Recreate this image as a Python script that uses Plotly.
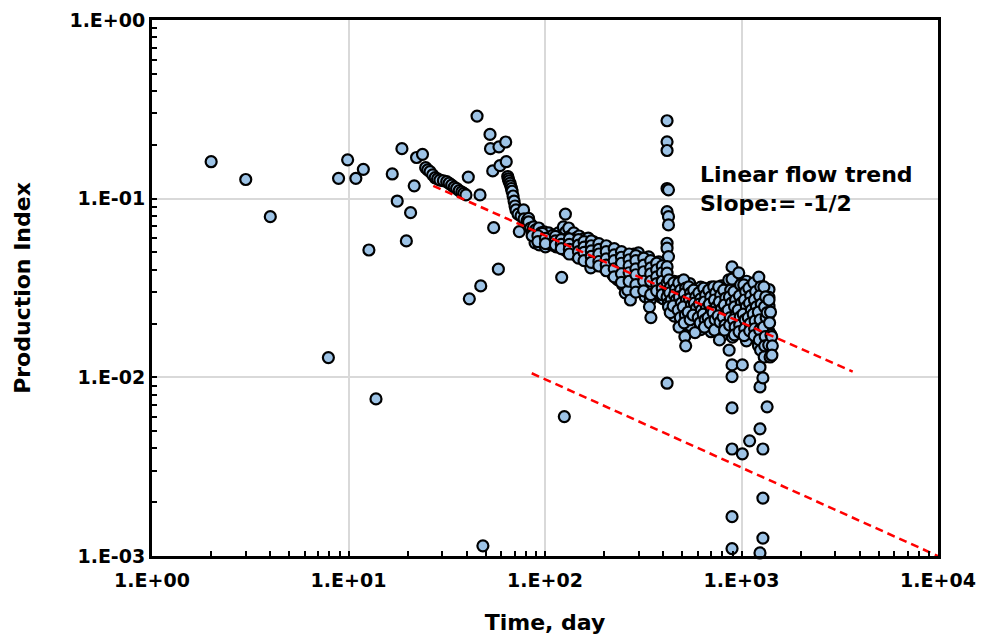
import plotly.graph_objects as go

# ---------------- data (Time in days, Production Index) ----------------
early_time = [2, 3, 4, 7.9, 8.9, 9.9, 10.9, 11.9, 12.7, 13.8, 16.7, 17.7, 18.7, 19.7, 20.7, 21.6, 22.2, 23.8]
early_pi = [0.161, 0.128, 0.0793, 0.0129, 0.130, 0.165, 0.130, 0.146, 0.0516, 0.00757, 0.1375, 0.097, 0.1905,
            0.058, 0.0835, 0.118, 0.170, 0.177]

arc_time = [24.7, 25.3, 26.0, 26.8, 27.6, 28.4, 29.2, 30.4, 31.6, 32.5, 33.5, 34.5, 35.5, 36.6, 37.7, 38.6, 39.6]
arc_pi = [0.149, 0.145, 0.1416, 0.136, 0.131, 0.129, 0.127, 0.126, 0.1245, 0.122, 0.119, 0.116, 0.114, 0.111,
          0.109, 0.107, 0.105]

mid_time = [40.7, 41.2, 45.1, 46.7, 47.1, 48.3, 52.5, 52.8, 54.2, 54.8, 57.9, 58.3, 59.0, 63.1, 63.5]
mid_pi = [0.132, 0.0275, 0.290, 0.105, 0.0325, 0.00114, 0.229, 0.1905, 0.143, 0.0688, 0.0403, 0.195, 0.153,
          0.2076, 0.161]

drop_time = [64.6, 65.1, 65.6, 66.3, 66.9, 67.5, 68.0, 68.8, 69.6, 70.4, 71.2, 72.9, 74.0, 75.5, 77.8, 78.2,
             81.0, 82.5, 83.9]
drop_pi = [0.133, 0.129, 0.1256, 0.122, 0.118, 0.114, 0.110, 0.1035, 0.097, 0.091, 0.0865, 0.082, 0.0654,
           0.080, 0.0865, 0.077, 0.075, 0.0775, 0.073]

band1_time = [82.5, 84.5, 86.0,
              87.5, 89.5, 88.0, 90.5, 89.0,
              91.5,
              93.0, 95.5, 94.0, 96.0, 93.5,
              97.0,
              99, 101, 102.5, 98.5, 100.5,
              104.5, 107, 105.5, 108,
              110.5, 113, 111.5, 114,
              117, 120, 118, 121.5,
              121.6, 125.4, 127,
              124, 127.5, 125, 129, 126.5,
              132, 135, 133.5, 136.5, 131,
              140, 143.5, 141, 145, 139,
              149, 152.5, 150, 154, 147.5,
              157, 161.5, 158.5, 163, 156]
band1_pi = [0.0741, 0.0685, 0.0651,
            0.0695, 0.0668, 0.0634, 0.0602, 0.0566,
            0.0595,
            0.0685, 0.0643, 0.0610, 0.0580, 0.0551,
            0.0573,
            0.0651, 0.0618, 0.0587, 0.0566, 0.0537,
            0.0643, 0.0610, 0.0580, 0.0551,
            0.0626, 0.0595, 0.0566, 0.0537,
            0.0643, 0.0602, 0.0573, 0.0537,
            0.0363, 0.00603, 0.082,
            0.0695, 0.0651, 0.0587, 0.0551, 0.0516,
            0.0685, 0.0618, 0.0573, 0.0537, 0.0503,
            0.0643, 0.0602, 0.0558, 0.0523, 0.0490,
            0.0618, 0.0573, 0.0537, 0.0503, 0.0472,
            0.0595, 0.0551, 0.0523, 0.0490, 0.0460]

band2_time = [166, 170, 168, 172, 165, 171,
              177, 181, 178.5, 183, 176,
              187, 191.5, 189, 194, 186,
              199, 204, 200.5, 206, 197,
              211, 216, 212.5, 218, 209,
              224, 229, 225.5, 231, 222,
              237, 243, 239, 246, 235,
              251, 257, 253, 260, 249, 256,
              266, 273, 268.5, 276, 264, 272,
              283, 289, 285, 292, 281,
              299, 307, 302, 310, 297, 305,
              318, 326, 320.5, 329, 315, 324,
              337, 345, 339.5, 348, 334, 343, 340, 346,
              357, 366, 360, 369, 354,
              379, 388, 382, 392, 376, 386]
band2_pi = [0.0602, 0.0566, 0.0530, 0.0497, 0.0466, 0.0410,
            0.0573, 0.0537, 0.0503, 0.0472, 0.0443,
            0.0544, 0.0510, 0.0484, 0.0454, 0.0432,
            0.0530, 0.0497, 0.0472, 0.0443, 0.0415,
            0.0516, 0.0484, 0.0454, 0.0432, 0.0399,
            0.0503, 0.0472, 0.0443, 0.0415, 0.0374,
            0.0490, 0.0454, 0.0426, 0.0399, 0.0351,
            0.0478, 0.0443, 0.0415, 0.0389, 0.0329, 0.0297,
            0.0466, 0.0432, 0.0405, 0.0374, 0.0308, 0.0271,
            0.0490, 0.0443, 0.0415, 0.0389, 0.0360,
            0.0497, 0.0466, 0.0426, 0.0399, 0.0369, 0.0338,
            0.0454, 0.0410, 0.0384, 0.0355, 0.0316, 0.0282,
            0.0472, 0.0426, 0.0399, 0.0369, 0.0338, 0.0271, 0.0248, 0.0216,
            0.0426, 0.0389, 0.0360, 0.0333, 0.0308,
            0.0443, 0.0399, 0.0364, 0.0338, 0.0308, 0.0282]

spike_time = [418, 418, 418, 418, 425, 418, 425, 425, 418, 418, 425, 418, 418, 418, 425, 418, 425, 418]
spike_pi = [0.273, 0.208, 0.186, 0.114, 0.112, 0.0846, 0.0793, 0.0713, 0.0563, 0.0528, 0.0474, 0.0416,
            0.0383, 0.0338, 0.0308, 0.0282, 0.0260, 0.00927]

band3_time = [428, 436, 431, 439, 425, 434,
              452, 462, 456, 466, 449,
              479, 490, 483, 494, 476, 488, 481,
              508, 520, 512, 525, 505, 518, 511, 515, 520,
              539, 551, 543, 556, 535, 548,
              571, 585, 576, 590, 567, 580,
              606, 620, 611, 625, 602, 616,
              642, 657, 647, 663, 638, 653, 648,
              681, 697, 686, 703, 676, 692,
              722, 739, 728, 745, 717, 734, 729,
              765, 783, 771, 790, 760, 778, 772,
              812, 831, 818, 838, 806, 825, 820,
              861, 881, 868, 889, 855, 876, 870, 865]
band3_pi = [0.0351, 0.0321, 0.0297, 0.0271, 0.0248, 0.0230,
            0.0338, 0.0312, 0.0289, 0.0271, 0.0251,
            0.0338, 0.0308, 0.0282, 0.0260, 0.0238, 0.0216, 0.0191,
            0.0351, 0.0316, 0.0293, 0.0271, 0.0248, 0.0223, 0.0202, 0.0169, 0.0150,
            0.0321, 0.0297, 0.0275, 0.0254, 0.0232, 0.0210,
            0.0308, 0.0282, 0.0260, 0.0244, 0.0223, 0.0178,
            0.0297, 0.0275, 0.0257, 0.0238, 0.0216, 0.0202,
            0.0316, 0.0289, 0.0264, 0.0244, 0.0226, 0.0210, 0.0191,
            0.0308, 0.0282, 0.0257, 0.0235, 0.0216, 0.0202,
            0.0321, 0.0297, 0.0271, 0.0248, 0.0230, 0.0210, 0.0184,
            0.0321, 0.0289, 0.0264, 0.0241, 0.0221, 0.0204, 0.0162,
            0.0308, 0.0278, 0.0254, 0.0232, 0.0218, 0.0196, 0.0184,
            0.0351, 0.0308, 0.0282, 0.0260, 0.0238, 0.0216, 0.0196, 0.0142]

band4_time = [895, 895, 895, 895, 895, 895, 895, 895,
              915, 933, 922, 940, 910, 928, 920,
              968, 990, 976, 998, 962, 985, 979, 972,
              1010, 1010,
              1027, 1050, 1036, 1058, 1020, 1044, 1038, 1032,
              1100,
              1089, 1113, 1098, 1122, 1082, 1106, 1100,
              1154, 1180, 1164, 1190, 1147, 1173, 1166, 1160,
              1225, 1252, 1236, 1260, 1218, 1244, 1238, 1232, 1250, 1242, 1242, 1242, 1242,
              1285, 1285, 1285, 1285,
              1300, 1327, 1310, 1335, 1295, 1320, 1312, 1305,
              1350, 1350,
              1380, 1405, 1390, 1412, 1375, 1398,
              1425, 1435, 1428]
band4_pi = [0.0415, 0.0355, 0.01173, 0.0101, 0.00674, 0.00397, 0.00166, 0.00110,
            0.0302, 0.0271, 0.0248, 0.0226, 0.0210, 0.0191, 0.0173,
            0.0384, 0.0329, 0.0286, 0.0260, 0.0238, 0.0218, 0.0196, 0.0180,
            0.01173, 0.00373,
            0.0329, 0.0302, 0.0271, 0.0248, 0.0226, 0.0210, 0.0187, 0.0171,
            0.00441,
            0.0316, 0.0286, 0.0260, 0.0238, 0.0216, 0.0200, 0.0182,
            0.0338, 0.0302, 0.0271, 0.0248, 0.0226, 0.0207, 0.0187, 0.0171,
            0.0364, 0.0321, 0.0286, 0.0257, 0.0232, 0.0210, 0.0184, 0.0162, 0.0142, 0.0114, 0.00884, 0.00515,
            0.00104,
            0.00993, 0.00397, 0.00211, 0.00126,
            0.0321, 0.0282, 0.0248, 0.0216, 0.0191, 0.0169, 0.0150, 0.0130,
            0.0230, 0.00684,
            0.0271, 0.0232, 0.0202, 0.0173, 0.0152, 0.0130,
            0.0169, 0.0150, 0.0133]

fill_time = [86] + [97] * 2 + [103] * 2 + [109] * 2 + [116] * 2 + [123] * 2 + [130] * 3 + [138] * 3 + \
            [146] * 3 + [155] * 3 + [164] * 3 + [175] * 4 + [185] * 3 + [196] * 4 + [208] * 3 + [220] * 4 + \
            [234] * 3 + [248] * 4 + [263] * 3 + [279] * 4 + [295] * 4 + [313] * 4 + [332] * 4 + [352] * 4 + \
            [374] * 5 + [400] * 5 + [446] * 5 + [472] * 5 + [500] * 6 + [531] * 6 + [563] * 5 + [597] * 6 + \
            [633] * 5 + [671] * 6 + [712] * 6 + [755] * 6 + [800] * 6 + [848] * 7 + [950] * 7 + [1012] * 6 + \
            [1075] * 7 + [1138] * 7 + [1205] * 8 + [1280] * 7 + [1357] * 7
fill_pi = [0.0620,
           0.0600, 0.0640,
           0.0560, 0.0600,
           0.0585, 0.0620,
           0.0555, 0.0610,
           0.0570, 0.0530,
           0.0600, 0.0545, 0.0520,
           0.0580, 0.0540, 0.0510,
           0.0555, 0.0515, 0.0480,
           0.0560, 0.0525, 0.0490,
           0.0540, 0.0500, 0.0470,
           0.0550, 0.0515, 0.0480, 0.0455,
           0.0525, 0.0490, 0.0460,
           0.0515, 0.0480, 0.0450, 0.0425,
           0.0505, 0.0470, 0.0440,
           0.0490, 0.0460, 0.0428, 0.0390,
           0.0470, 0.0440, 0.0410,
           0.0460, 0.0430, 0.0400, 0.0360,
           0.0450, 0.0420, 0.0390,
           0.0465, 0.0425, 0.0395, 0.0370,
           0.0470, 0.0420, 0.0385, 0.0350,
           0.0440, 0.0395, 0.0365, 0.0330,
           0.0430, 0.0385, 0.0350, 0.0300,
           0.0410, 0.0375, 0.0345, 0.0320,
           0.0420, 0.0380, 0.0350, 0.0320, 0.0295,
           0.0400, 0.0360, 0.0330, 0.0300, 0.0275,
           0.0330, 0.0305, 0.0280, 0.0258, 0.0240,
           0.0325, 0.0295, 0.0270, 0.0248, 0.0228,
           0.0330, 0.0300, 0.0275, 0.0250, 0.0228, 0.0205,
           0.0310, 0.0285, 0.0262, 0.0240, 0.0220, 0.0195,
           0.0300, 0.0275, 0.0252, 0.0232, 0.0212,
           0.0290, 0.0268, 0.0248, 0.0230, 0.0210, 0.0190,
           0.0295, 0.0270, 0.0250, 0.0230, 0.0208,
           0.0300, 0.0275, 0.0252, 0.0232, 0.0214, 0.0196,
           0.0295, 0.0268, 0.0245, 0.0225, 0.0207, 0.0192,
           0.0305, 0.0278, 0.0255, 0.0235, 0.0215, 0.0197,
           0.0295, 0.0270, 0.0248, 0.0228, 0.0208, 0.0190,
           0.0320, 0.0290, 0.0265, 0.0245, 0.0225, 0.0205, 0.0188,
           0.0315, 0.0285, 0.0260, 0.0238, 0.0218, 0.0200, 0.0182,
           0.0300, 0.0275, 0.0250, 0.0230, 0.0210, 0.0192,
           0.0310, 0.0282, 0.0256, 0.0234, 0.0214, 0.0195, 0.0178,
           0.0300, 0.0275, 0.0252, 0.0232, 0.0212, 0.0194, 0.0177,
           0.0330, 0.0295, 0.0268, 0.0244, 0.0222, 0.0200, 0.0180, 0.0160,
           0.0300, 0.0265, 0.0238, 0.0212, 0.0190, 0.0168, 0.0150,
           0.0290, 0.0255, 0.0222, 0.0195, 0.0172, 0.0155, 0.0140]

fill2_time = [92] * 2 + [100.5] * 2 + [113] * 3 + [121] * 3 + [133] * 4 + [148] * 4 + [158] * 4 + [172] * 5 + \
             [188] * 5 + [205] * 5 + [225] * 5 + [245] * 5 + [268] * 5 + [290] * 6 + [318] * 5 + [345] * 5 + \
             [370] * 5 + [395] * 5 + [455] * 6 + [490] * 7 + [545] * 7 + [620] * 7 + [700] * 7 + [790] * 8 + \
             [900] * 8 + [1060] * 9 + [1220] * 9 + [1380] * 8
fill2_pi = [0.0620, 0.0575,
            0.0600, 0.0560,
            0.0615, 0.0580, 0.0550,
            0.0590, 0.0555, 0.0525,
            0.0595, 0.0555, 0.0520, 0.0490,
            0.0590, 0.0550, 0.0505, 0.0465,
            0.0575, 0.0535, 0.0500, 0.0450,
            0.0580, 0.0545, 0.0510, 0.0475, 0.0440,
            0.0560, 0.0520, 0.0490, 0.0445, 0.0420,
            0.0545, 0.0505, 0.0460, 0.0425, 0.0395,
            0.0525, 0.0485, 0.0450, 0.0405, 0.0365,
            0.0505, 0.0470, 0.0435, 0.0380, 0.0340,
            0.0490, 0.0455, 0.0420, 0.0385, 0.0345,
            0.0480, 0.0450, 0.0405, 0.0375, 0.0330, 0.0300,
            0.0465, 0.0425, 0.0390, 0.0345, 0.0305,
            0.0450, 0.0410, 0.0380, 0.0345, 0.0290,
            0.0435, 0.0400, 0.0365, 0.0335, 0.0305,
            0.0420, 0.0385, 0.0345, 0.0315, 0.0290,
            0.0345, 0.0318, 0.0292, 0.0265, 0.0245, 0.0220,
            0.0345, 0.0315, 0.0290, 0.0265, 0.0242, 0.0220, 0.0200,
            0.0335, 0.0305, 0.0280, 0.0258, 0.0236, 0.0215, 0.0195,
            0.0320, 0.0290, 0.0265, 0.0242, 0.0222, 0.0205, 0.0185,
            0.0320, 0.0290, 0.0262, 0.0240, 0.0220, 0.0200, 0.0180,
            0.0325, 0.0295, 0.0268, 0.0244, 0.0224, 0.0205, 0.0185, 0.0170,
            0.0325, 0.0298, 0.0270, 0.0248, 0.0226, 0.0205, 0.0186, 0.0168,
            0.0345, 0.0310, 0.0280, 0.0255, 0.0232, 0.0212, 0.0192, 0.0175, 0.0160,
            0.0345, 0.0310, 0.0278, 0.0250, 0.0225, 0.0202, 0.0182, 0.0165, 0.0150,
            0.0310, 0.0280, 0.0250, 0.0225, 0.0200, 0.0180, 0.0160, 0.0145]

# slope -1/2 trend lines (end points)
trend1_time = [27.0, 3681]
trend1_pi = [0.1178, 0.01076]
trend2_time = [85.6, 10000]
trend2_pi = [0.01054, 0.001]

x_tickvals = [1, 10, 100, 1000, 10000]
x_ticktext = ["1.E+00", "1.E+01", "1.E+02", "1.E+03", "1.E+04"]
y_tickvals = [0.001, 0.01, 0.1, 1]
y_ticktext = ["1.E-03", "1.E-02", "1.E-01", "1.E+00"]

annotation_text = "Linear flow trend<br>Slope:= -1/2"

# ---------------- figure ----------------
groups_t = [early_time, arc_time, mid_time, drop_time, band1_time, band2_time, fill_time, fill2_time,
            spike_time, band3_time, band4_time]
groups_p = [early_pi, arc_pi, mid_pi, drop_pi, band1_pi, band2_pi, fill_pi, fill2_pi, spike_pi, band3_pi,
            band4_pi]
all_time, all_pi = [], []
for t, p in zip(groups_t, groups_p):
    assert len(t) == len(p), (len(t), len(p))
    all_time += t
    all_pi += p

fig = go.Figure()
fig.add_trace(go.Scatter(
    x=all_time, y=all_pi, mode="markers",
    marker=dict(symbol="circle", size=11, color="#9DC3E6", line=dict(color="black", width=2.2)),
    cliponaxis=False, showlegend=False,
))
for tx, ty in ((trend1_time, trend1_pi), (trend2_time, trend2_pi)):
    fig.add_trace(go.Scatter(
        x=tx, y=ty, mode="lines",
        line=dict(color="#FF0000", width=2.5, dash="8px,5px"),
        showlegend=False,
    ))

FONT = "DejaVu Sans"

def minor_vals(lo, hi):
    vals = []
    for e in range(lo, hi):
        for m in range(2, 10):
            vals.append(m * 10 ** e)
    return vals

common_axis = dict(
    type="log",
    automargin=False,
    ticks="inside", ticklen=5, tickwidth=2, tickcolor="black",
    showline=True, linecolor="black", linewidth=3, mirror=True,
    showgrid=True, gridcolor="#D9D9D9", gridwidth=2,
    zeroline=False,
    tickfont=dict(family=FONT, size=19, color="black", weight="bold"),
    tickmode="array",
)

fig.update_layout(
    width=981, height=640,
    margin=dict(l=152, r=43, t=20, b=84, autoexpand=False),
    paper_bgcolor="white", plot_bgcolor="white",
    xaxis=dict(
        **common_axis,
        range=[0, 4],
        tickvals=x_tickvals, ticktext=x_ticktext,
        ticklabelstandoff=5,
        minor=dict(tickmode="array", tickvals=minor_vals(0, 4), ticks="inside", ticklen=5, tickwidth=2,
                   tickcolor="black", showgrid=False),
        title=dict(text="Time, day", font=dict(family=FONT, size=22, color="black", weight="bold"), standoff=25),
    ),
    yaxis=dict(
        **common_axis,
        range=[-3, 0],
        tickvals=y_tickvals, ticktext=y_ticktext,
        minor=dict(tickmode="array", tickvals=[v / 1000 for v in minor_vals(0, 3)], ticks="inside",
                   ticklen=5, tickwidth=2, tickcolor="black", showgrid=False),
        title=dict(text="Production Index", font=dict(family=FONT, size=22, color="black", weight="bold"),
                   standoff=33),
    ),
    annotations=[dict(
        x=2.779, y=-0.946, xref="x", yref="y", text=annotation_text, showarrow=False,
        xanchor="left", yanchor="middle", align="left",
        font=dict(family=FONT, size=22, color="black", weight="bold"),
    )],
)

fig.write_html("out.html")
